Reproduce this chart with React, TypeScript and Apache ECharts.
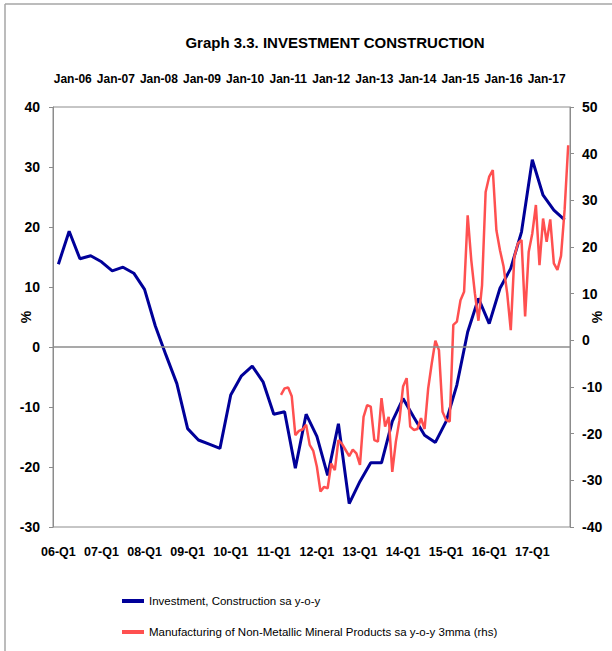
import React, { useEffect, useRef } from 'react';
import * as echarts from 'echarts';

const FONT = "'Liberation Sans', Arial, sans-serif";

const titleText = 'Graph 3.3. INVESTMENT CONSTRUCTION';
const blueName = 'Investment, Construction sa y-o-y';
const redName = 'Manufacturing of Non-Metallic Mineral Products sa y-o-y 3mma (rhs)';

// quarterly categories 06-Q1 .. 17-Q4
const quarters: string[] = [];
for (let y = 6; y <= 17; y++) {
  for (let q = 1; q <= 4; q++) quarters.push(`${String(y).padStart(2, '0')}-Q${q}`);
}

// monthly categories for the secondary (top) axis
const monthNames = ['Jan', 'Feb', 'Mar', 'Apr', 'May', 'Jun', 'Jul', 'Aug', 'Sep', 'Oct', 'Nov', 'Dec'];
const months: string[] = [];
for (let i = 0; i < 144; i++) {
  const m = (7 + i) % 12;
  const y = 5 + Math.floor((7 + i) / 12);
  months.push(`${monthNames[m]}-${String(y).padStart(2, '0')}`);
}

// Investment, Construction sa y-o-y (%), quarterly
const investment: number[] = [
  13.8, 19.3, 14.7, 15.2, 14.2, 12.7, 13.3, 12.3,
  9.6, 3.5, -1.4, -6.1, -13.6, -15.5, -16.2, -16.9,
  -8.0, -4.8, -3.2, -5.8, -11.2, -10.8, -20.2, -11.2,
  -14.9, -21.4, -12.8, -26.1, -22.4, -19.3, -19.3, -12.4,
  -8.6, -11.7, -14.7, -15.9, -12.4, -6.3, 2.5, 8.1,
  3.9, 9.8, 13.1, 19.2, 31.2, 25.3, 22.8, 21.2,
];

// Manufacturing of non-metallic mineral products, monthly (rhs), from month index 63
const redStart = 63;
const manufacturing: number[] = [
  -11.7, -10.3, -10.1, -12.0, -20.3, -19.4, -19.1, -18.1, -22.4, -23.7,
  -27.1, -32.4, -31.4, -31.7, -26.4, -27.8, -21.4, -22.2, -23.5, -24.8,
  -23.4, -24.2, -26.7, -16.4, -13.9, -14.2, -21.4, -21.7, -12.4, -18.5,
  -16.4, -28.2, -21.7, -17.1, -9.9, -8.1, -18.5, -19.2, -19.0, -16.7,
  -19.0, -10.3, -4.9, -0.1, -2.1, -15.3, -17.1, -17.4, 3.3, 4.0,
  8.6, 10.4, 26.8, 17.2, 10.1, 4.2, 11.8, 31.8, 35.1, 36.5,
  23.6, 19.3, 15.8, 10.1, 2.2, 17.9, 20.8, 21.5, 5.1, 19.0,
  22.9, 29.0, 16.1, 26.1, 21.1, 25.9, 16.5, 15.1, 18.1, 28.0,
  41.8,
];

const redSeries: (number | null)[] = [];
for (let i = 0; i < months.length; i++) {
  const j = i - redStart;
  redSeries.push(j >= 0 && j < manufacturing.length ? manufacturing[j] : null);
}

const BLUE = '#000099';
const RED = '#FF5050';
const AXIS = '#8c8c8c';

export default function App() {
  const ref = useRef<HTMLDivElement>(null);
  useEffect(() => {
    if (!ref.current) return;
    const chart = echarts.init(ref.current, undefined, { renderer: 'svg' });
    const bold = { fontFamily: FONT, fontWeight: 'bold' as const, color: '#000' };
    chart.setOption({
      animation: false,
      backgroundColor: '#ffffff',
      title: {
        text: titleText,
        left: 330,
        top: 30,
        textAlign: 'center',
        textStyle: { ...bold, fontSize: 15 },
      },
      graphic: [
        { type: 'line', shape: { x1: 5, y1: 4, x2: 612, y2: 4 }, style: { stroke: '#a6a6a6', lineWidth: 1.5 } },
        { type: 'line', shape: { x1: 5, y1: 4, x2: 5, y2: 651 }, style: { stroke: '#a6a6a6', lineWidth: 1.5 } },
      ],
      grid: {
        left: 53,
        top: 107,
        width: 526,
        height: 420,
        show: true,
        borderColor: AXIS,
        borderWidth: 1,
        backgroundColor: 'transparent',
      },
      legend: {
        orient: 'vertical',
        left: 117,
        top: 590,
        itemGap: 19,
        itemWidth: 22,
        itemHeight: 4,
        icon: 'rect',
        textStyle: { fontFamily: FONT, fontSize: 11.5, color: '#000' },
        data: [blueName, redName],
      },
      xAxis: [
        {
          type: 'category',
          data: quarters,
          position: 'bottom',
          boundaryGap: true,
          axisLine: { show: false },
          axisTick: { show: false },
          axisLabel: { ...bold, fontSize: 12.5, interval: 3, margin: 18, hideOverlap: false },
          splitLine: { show: false },
        },
        {
          type: 'category',
          data: months,
          position: 'top',
          boundaryGap: true,
          axisLine: { show: false },
          axisTick: { show: false },
          axisLabel: {
            ...bold,
            fontSize: 12,
            margin: 22,
            hideOverlap: false,
            interval: (_i: number, v: string) => v.startsWith('Jan'),
          },
          splitLine: { show: false },
        },
      ],
      yAxis: [
        {
          type: 'value',
          position: 'left',
          min: -30,
          max: 40,
          interval: 10,
          axisLine: { show: true, lineStyle: { color: AXIS } },
          axisTick: { show: true, length: 4, lineStyle: { color: AXIS } },
          splitLine: { show: false },
          axisLabel: { ...bold, fontSize: 14, margin: 13 },
          name: '%',
          nameLocation: 'middle',
          nameRotate: 90,
          nameGap: 20,
          nameMoveOverlap: false,
          nameTextStyle: { ...bold, fontSize: 14 },
        },
        {
          type: 'value',
          position: 'right',
          min: -40,
          max: 50,
          interval: 10,
          axisLine: { show: true, lineStyle: { color: AXIS } },
          axisTick: { show: true, length: 4, lineStyle: { color: AXIS } },
          splitLine: { show: false },
          axisLabel: { ...bold, fontSize: 14, margin: 12 },
          name: '%',
          nameLocation: 'middle',
          nameRotate: 90,
          nameGap: 20,
          nameMoveOverlap: false,
          nameTextStyle: { ...bold, fontSize: 14 },
        },
      ],
      series: [
        {
          name: blueName,
          type: 'line',
          xAxisIndex: 0,
          yAxisIndex: 0,
          data: investment,
          symbol: 'none',
          lineStyle: { color: BLUE, width: 3 },
          itemStyle: { color: BLUE },
          z: 2,
          markLine: {
            silent: true,
            symbol: ['none', 'none'],
            label: { show: false },
            lineStyle: { color: AXIS, width: 1.5, type: 'solid' },
            data: [{ yAxis: 0 }],
          },
        },
        {
          name: redName,
          type: 'line',
          xAxisIndex: 1,
          yAxisIndex: 1,
          data: redSeries,
          symbol: 'none',
          connectNulls: false,
          lineStyle: { color: RED, width: 2.5 },
          itemStyle: { color: RED },
          z: 3,
        },
      ],
    });
    return () => chart.dispose();
  }, []);
  return (
    <div
      ref={ref}
      style={{ position: 'fixed', left: 0, top: 0, width: 612, height: 651, background: '#fff' }}
    />
  );
}
